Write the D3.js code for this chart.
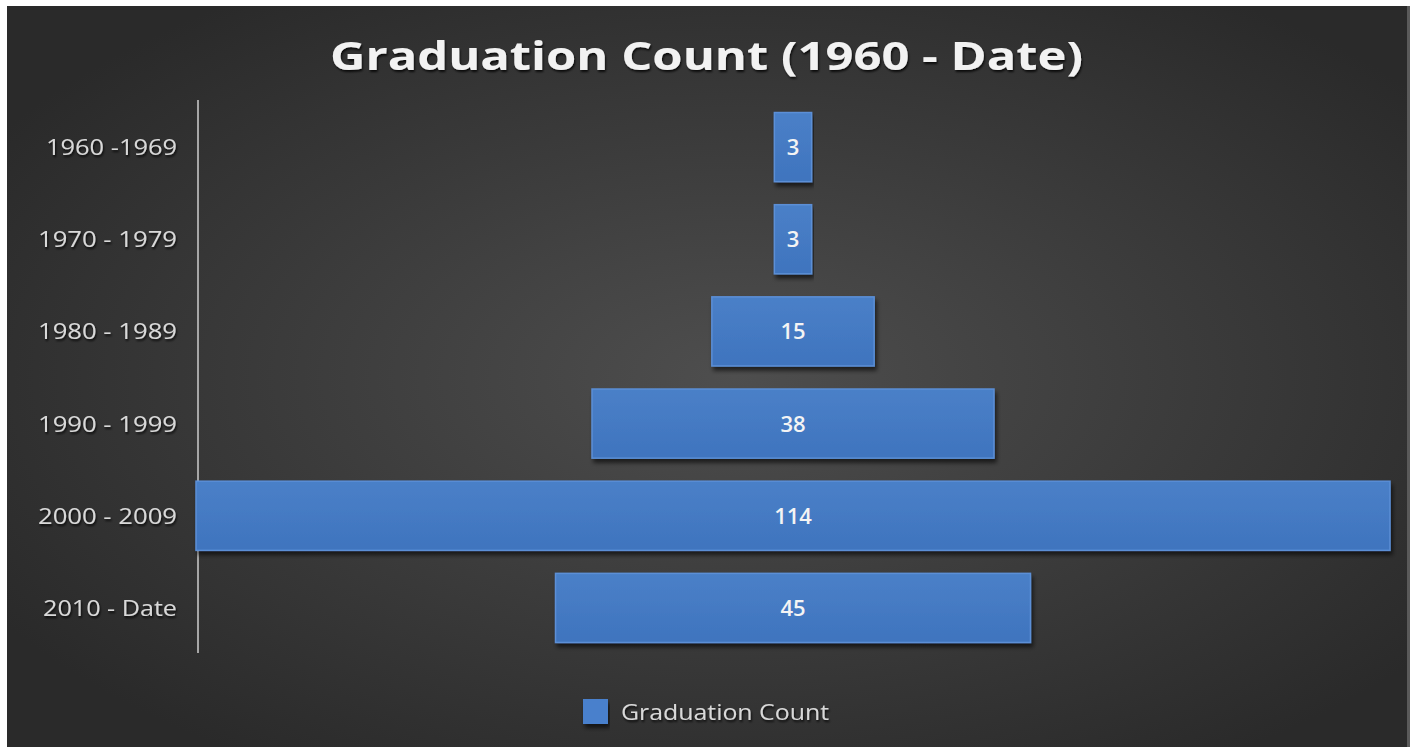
<!DOCTYPE html>
<html>
<head>
<meta charset="utf-8">
<script src="https://cdn.jsdelivr.net/npm/d3@7.9.0/dist/d3.min.js"></script>
<style>
  body { margin: 0; background: #ffffff; }
  svg { display: block; }
  text { font-family: "Open Sans", "Noto Sans", sans-serif; }
</style>
</head>
<body>
<svg id="chart" width="1410" height="747"></svg>
<script>
// chart data
const categories = ["1960 -1969", "1970 - 1979", "1980 - 1989", "1990 - 1999", "2000 - 2009", "2010 - Date"];
const counts = [3, 3, 15, 38, 114, 45];
const seriesName = "Graduation Count";
const chartTitle = "Graduation Count (1960 - Date)";

const W = 1410, H = 747;
const svg = d3.select("#chart");
const defs = svg.append("defs");

// background gradient, lighter in the middle
let bg = defs.append("radialGradient").attr("id", "bg")
  .attr("cx", "52%").attr("cy", "50%").attr("r", "62%");
bg.append("stop").attr("offset", "0%").attr("stop-color", "#4e4e4e");
bg.append("stop").attr("offset", "100%").attr("stop-color", "#2a2a2a");

let barGrad = defs.append("linearGradient").attr("id", "bar")
  .attr("x1", 0).attr("y1", 0).attr("x2", 0).attr("y2", 1);
barGrad.append("stop").attr("offset", "0%").attr("stop-color", "#4a80c8");
barGrad.append("stop").attr("offset", "100%").attr("stop-color", "#3f74be");

let shadow = defs.append("filter").attr("id", "shadow")
  .attr("x", "-5%").attr("y", "-20%").attr("width", "110%").attr("height", "150%");
shadow.append("feDropShadow").attr("dx", 2).attr("dy", 4).attr("stdDeviation", 2)
  .attr("flood-color", "#000").attr("flood-opacity", 0.6);

let textShadow = defs.append("filter").attr("id", "tshadow");
textShadow.append("feDropShadow").attr("dx", 1).attr("dy", 2).attr("stdDeviation", 1.2)
  .attr("flood-color", "#000").attr("flood-opacity", 0.8);

svg.append("rect")
  .attr("x", 7).attr("y", 6).attr("width", 1400).attr("height", H - 6)
  .attr("fill", "url(#bg)");
svg.append("rect")
  .attr("x", 1407).attr("y", 6).attr("width", 3).attr("height", H - 6)
  .attr("fill", "#5a5a5a");

// title (stretched like the source picture)
svg.append("text")
  .attr("x", 330).attr("y", 70)
  .attr("fill", "#f2f2f2")
  .attr("font-size", 40)
  .attr("font-weight", "bold")
  .attr("textLength", 753)
  .attr("lengthAdjust", "spacingAndGlyphs")
  .attr("filter", "url(#tshadow)")
  .text(chartTitle);

// scales
const centerX = 793;
let y = d3.scaleBand()
  .domain(categories)
  .range([101, 654])
  .paddingInner(0.25)
  .paddingOuter(0.125);

let w = d3.scaleLinear()
  .domain([0, d3.max(counts)])
  .range([6, 1194]);

// vertical axis line
svg.append("line")
  .attr("x1", 198).attr("x2", 198)
  .attr("y1", 100).attr("y2", 653)
  .attr("stroke", "#a6a6a6").attr("stroke-width", 2);

let data = categories.map((c, i) => ({ label: c, value: counts[i] }));

// category labels
svg.append("g").selectAll("text")
  .data(data)
  .join("text")
  .attr("x", 177)
  .attr("y", d => y(d.label) + y.bandwidth() / 2)
  .attr("dy", "0.36em")
  .attr("text-anchor", "end")
  .attr("fill", "#d9d9d9")
  .attr("font-size", 22)
  .attr("textLength", (d, i) => i === 0 ? 131 : (d.label.includes("Date") ? 134 : 139))
  .attr("lengthAdjust", "spacingAndGlyphs")
  .attr("filter", "url(#tshadow)")
  .text(d => d.label);

// funnel bars
svg.append("g").selectAll("rect")
  .data(data)
  .join("rect")
  .attr("x", d => centerX - w(d.value) / 2)
  .attr("y", d => y(d.label))
  .attr("width", d => w(d.value))
  .attr("height", y.bandwidth())
  .attr("fill", "url(#bar)")
  .attr("stroke", "#5b8fd6")
  .attr("stroke-width", 1.5)
  .attr("filter", "url(#shadow)");

// value labels
svg.append("g").selectAll("text")
  .data(data)
  .join("text")
  .attr("x", centerX)
  .attr("y", d => y(d.label) + y.bandwidth() / 2)
  .attr("dy", "0.36em")
  .attr("text-anchor", "middle")
  .attr("fill", "#f4f4f4")
  .attr("font-size", 22)
  .attr("font-weight", 600)
  .text(d => d.value);

// legend
let legend = svg.append("g").attr("transform", "translate(583,699)");
legend.append("rect")
  .attr("width", 25).attr("height", 25)
  .attr("fill", "#4a80cc")
  .attr("filter", "url(#shadow)");
legend.append("text")
  .attr("x", 38).attr("y", 13)
  .attr("dy", "0.36em")
  .attr("fill", "#d9d9d9")
  .attr("font-size", 22)
  .attr("textLength", 208)
  .attr("lengthAdjust", "spacingAndGlyphs")
  .attr("filter", "url(#tshadow)")
  .text(seriesName);
</script>
</body>
</html>
